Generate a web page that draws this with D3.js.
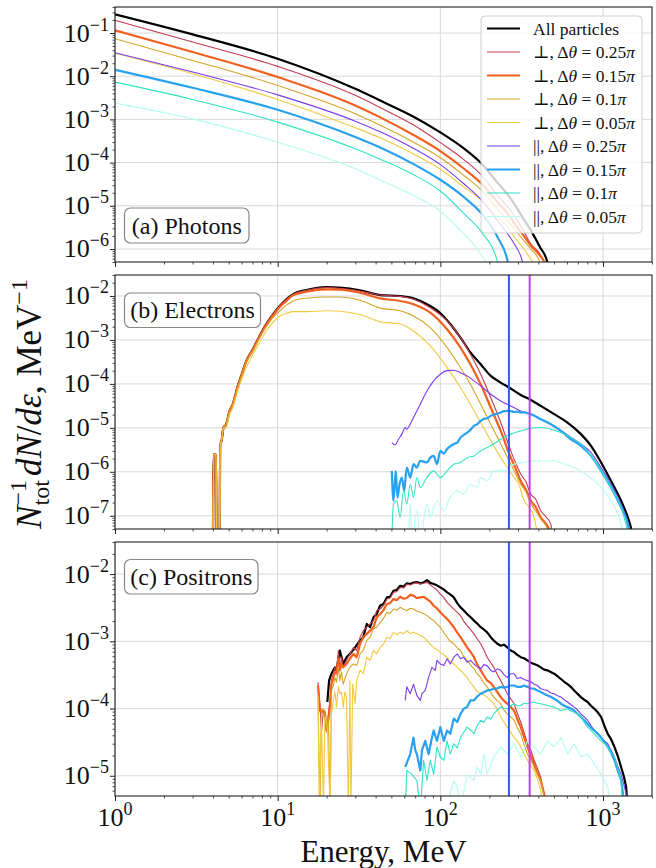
<!DOCTYPE html>
<html>
<head>
<meta charset="utf-8">
<script src="https://cdn.jsdelivr.net/npm/d3@7"></script>
<style>
  body { margin: 0; background: #fff; }
  svg { display: block; }
  text { font-family: 'Liberation Serif', 'DejaVu Serif', serif; fill: #111; }
</style>
</head>
<body>
<svg id="fig" width="656" height="868"></svg>
<script>
// ---- series styling / legend ----
const legendSym = ['', '⊥', '⊥', '⊥', '⊥', '||', '||', '||', '||'];
const legendDtheta = ['', '0.25', '0.15', '0.1', '0.05', '0.25', '0.15', '0.1', '0.05'];
const colors = ['#000000', '#c43b4f', '#f2601f', '#d6a326', '#f3c940', '#7b3bf0', '#28a2ee', '#2fe3c4', '#b2fdf0'];
const widths = [2.2, 1.1, 2.2, 1.1, 1.1, 1.1, 2.2, 1.1, 1.1];

// vertical marker energies (MeV), panels b and c
const markerE = [264, 354];
const markerColors = ['#3456ff', '#c23ef2'];

// ---- (a) photons: [E MeV, dN/dE] ----
const phAll = [[1,.271],[3,.093],[10,.0254],[30,.0051],[43,.0027],[68,.00117],[100,5.0e-4],[140,2.1e-4],[180,9.3e-5],[225,3.4e-5],[260,1.8e-5],[285,1.1e-5],[320,5.4e-6],[360,2.7e-6],[410,1.1e-6],[455,4.9e-7],[520,1e-8]];
const phPerp25 = [[1,.197],[3,.0618],[10,.0169],[30,.0036],[43,.00185],[68,7.5e-4],[100,2.9e-4],[140,1.16e-4],[180,5.0e-5],[225,1.73e-5],[260,9.3e-6],[285,5.9e-6],[320,2.9e-6],[360,1.3e-6],[410,7.6e-7],[435,4.5e-7],[470,1e-8]];
const phPerp15 = [[1,.115],[3,.0363],[10,.00955],[30,.0021],[43,1.1e-3],[68,4.4e-4],[100,1.85e-4],[140,7.2e-5],[180,3.2e-5],[225,1.2e-5],[260,6.5e-6],[285,3.9e-6],[320,2.2e-6],[360,1.2e-6],[410,7e-7],[440,4.5e-7],[465,1e-8]];
const phPerp10 = [[1,.074],[3,.0232],[10,.00612],[30,.00135],[43,7.2e-4],[68,3.0e-4],[100,1.3e-4],[140,5.0e-5],[180,2.25e-5],[225,8.5e-6],[260,4.5e-6],[285,2.9e-6],[320,1.7e-6],[360,1.0e-6],[410,4.9e-7],[440,1e-8]];
const phPerp05 = [[1,.034],[3,.0114],[10,.0029],[30,6.4e-4],[43,3.7e-4],[68,1.6e-4],[100,7.0e-5],[140,2.7e-5],[180,1.32e-5],[225,5.4e-6],[260,3.2e-6],[285,1.9e-6],[320,1.1e-6],[360,5.8e-7],[370,4.9e-7],[400,1e-8]];
const phPar25 = [[1,.035],[3,.0125],[10,.0037],[30,9.1e-4],[43,5.1e-4],[68,2.16e-4],[100,9.0e-5],[140,3.2e-5],[180,1.32e-5],[225,4.5e-6],[260,2.2e-6],[285,1.3e-6],[320,4.9e-7],[345,1e-8]];
const phPar15 = [[1,.0141],[3,.0054],[10,.00167],[30,3.9e-4],[43,2.2e-4],[68,9.35e-5],[100,4.0e-5],[140,1.58e-5],[180,6.5e-6],[225,1.86e-6],[260,4.9e-7],[280,1e-8]];
const phPar10 = [[1,.0073],[3,.0029],[10,8.65e-4],[30,2.08e-4],[43,1.18e-4],[68,5.3e-5],[100,2.2e-5],[140,6.5e-6],[180,2.4e-6],[225,4.9e-7],[245,1e-8]];
const phPar05 = [[1,.00238],[3,.00103],[10,2.97e-4],[30,7.2e-5],[43,3.9e-5],[68,1.75e-5],[100,7.5e-6],[140,2.2e-6],[180,7e-7],[190,4.9e-7],[205,1e-8]];

// ---- (b) electrons ----
const elRise = [[4.0,3e-8],[4.05,2.5e-6],[4.18,2.5e-6],[4.2,3e-8],[4.4,3e-8],[4.43,4.6e-6],[4.49,4.6e-6],[4.64,1.0e-5]];
const elAll = [[4.82,1.2e-5],[5.06,2.4e-5],[5.3,3.45e-5],[5.69,9.0e-5],[5.97,1.52e-4],[6.41,3.3e-4],[7.04,6.1e-4],[7.74,1.23e-3],[8.51,2.3e-3],[9.36,3.8e-3],[10.3,5.9e-3],[11.3,8.4e-3],[12.4,1.09e-2],[15,1.37e-2],[20,1.6e-2],[24,1.55e-2],[32,1.35e-2],[42.6,1.05e-2],[56.6,1.0e-2],[68.4,8.9e-3],[82.7,6.5e-3],[99,4.2e-3],[115,2.3e-3],[133,1.13e-3],[153,5.2e-4],[177,2.8e-4],[204,1.52e-4],[235,1.07e-4],[264,8.3e-5],[312,5.6e-5],[360,4.3e-5],[414,3.16e-5],[501,2.05e-5],[605,1.32e-5],[731,7.2e-6],[843,3.9e-6],[973,1.63e-6],[1120,6.2e-7],[1291,2.2e-7],[1420,9.2e-8],[1490,5e-8],[1525,3e-8]];
const elPerp25 = [[4.82,1.2e-5],[5.06,2.4e-5],[5.3,3.45e-5],[5.69,9.0e-5],[5.97,1.52e-4],[6.41,3.3e-4],[7.04,6.1e-4],[7.74,1.23e-3],[8.51,2.3e-3],[9.36,3.8e-3],[10.3,5.9e-3],[11.3,8.3e-3],[12.4,1.07e-2],[15,1.35e-2],[20,1.55e-2],[24,1.5e-2],[32,1.3e-2],[42.6,1.05e-2],[56.6,9.8e-3],[68.4,8.4e-3],[86.7,5.4e-3],[110,2.7e-3],[133,1.13e-3],[153,4.7e-4],[177,1.66e-4],[204,4.9e-5],[235,1.32e-5],[271,3.0e-6],[290,1.6e-6],[312,8.9e-7],[335,6e-7],[360,3.1e-7],[385,2.4e-7],[414,1.3e-7],[440,1.0e-7],[477,6.5e-8],[490,3e-8]];
const elPerp15 = [[4.82,1.2e-5],[5.06,2.4e-5],[5.3,3.45e-5],[5.69,9e-5],[5.97,1.5e-4],[6.41,3.3e-4],[7.04,6.0e-4],[7.74,1.2e-3],[8.51,2.2e-3],[9.36,3.6e-3],[10.3,5.6e-3],[11.3,7.7e-3],[12.4,1.03e-2],[15,1.25e-2],[20,1.42e-2],[24,1.4e-2],[32,1.19e-2],[42.6,8.8e-3],[56.6,7.7e-3],[68.4,6.5e-3],[86.7,4.2e-3],[110,1.75e-3],[133,6.7e-4],[153,2.8e-4],[177,9.8e-5],[204,2.9e-5],[235,8.5e-6],[271,2.1e-6],[290,1.2e-6],[312,6.2e-7],[335,4e-7],[360,2.2e-7],[385,1.6e-7],[414,9.2e-8],[440,7e-8],[465,5e-8],[480,3e-8]];
const elPerp10 = [[4.82,1.2e-5],[5.06,2.4e-5],[5.3,3.45e-5],[5.69,8.5e-5],[5.97,1.45e-4],[6.41,3.1e-4],[7.04,5.6e-4],[7.74,1.1e-3],[8.51,2.0e-3],[9.36,3.2e-3],[10.3,4.6e-3],[11.3,6.2e-3],[12.4,7.6e-3],[15,8.9e-3],[20,9.5e-3],[24,9.5e-3],[32,8.0e-3],[42.6,5.3e-3],[56.6,4.6e-3],[68.4,3.5e-3],[86.7,1.9e-3],[110,6.7e-4],[133,2.35e-4],[153,9.8e-5],[177,3.45e-5],[204,1.21e-5],[235,4.3e-6],[271,1.49e-6],[290,9e-7],[312,5.2e-7],[335,3.5e-7],[360,1.84e-7],[385,1.3e-7],[414,8.4e-8],[455,5e-8],[470,3e-8]];
const elPerp05 = [[4.82,1.0e-5],[5.06,2.0e-5],[5.3,2.9e-5],[5.69,7e-5],[5.97,1.2e-4],[6.41,2.35e-4],[7.04,4.7e-4],[7.74,8.7e-4],[8.51,1.6e-3],[9.36,2.5e-3],[10.3,3.5e-3],[11.3,4.0e-3],[12.4,4.4e-3],[15,4.4e-3],[20,4.6e-3],[24,4.5e-3],[32,3.8e-3],[42.6,2.6e-3],[56.6,2.3e-3],[68.4,1.6e-3],[86.7,7.3e-4],[110,2.35e-4],[133,8.3e-5],[153,3.45e-5],[177,1.32e-5],[204,5.1e-6],[235,2.1e-6],[258,1.25e-6],[284,7.4e-7],[305,5e-7],[327,2.2e-7],[350,1.6e-7],[377,9.2e-8],[400,3e-8]];
const elPar25 = [[50.3,4.6e-6],[52.7,4.1e-6],[55.3,5.5e-6],[58,7.2e-6],[60.8,1.02e-5],[62.2,9.3e-6],[65.3,1.21e-5],[68.4,1.72e-5],[75.3,3.45e-5],[82.7,6.9e-5],[91,1.17e-4],[100,1.66e-4],[110,2.0e-4],[121,2.05e-4],[133,1.8e-4],[146,1.52e-4],[161,1.17e-4],[177,9.0e-5],[204,5.8e-5],[235,4.1e-5],[271,3.16e-5],[312,2.43e-5],[360,2.05e-5],[414,1.6e-5],[477,1.23e-5],[551,8.7e-6],[634,6.1e-6],[731,4.3e-6],[843,2.75e-6],[973,1.25e-6],[1120,5.2e-7],[1291,1.84e-7],[1420,6.5e-8],[1476,3e-8]];
const elPar15 = [[50.3,1.05e-6],[51.5,2.2e-7],[53.2,1.05e-6],[54.5,2.6e-7],[56.1,5.2e-7],[58,7.4e-7],[59.9,3.7e-7],[62.2,1.25e-6],[65.3,7.4e-7],[68.4,1.49e-6],[71.7,1.25e-6],[75.3,1.78e-6],[82.7,1.63e-6],[86.7,2.1e-6],[91,2.3e-6],[95.3,1.49e-6],[100,3.0e-6],[105,2.6e-6],[110,3.3e-6],[115,3.8e-6],[121,4.3e-6],[127,4.6e-6],[133,6.0e-6],[139,6.8e-6],[146,7.8e-6],[153,9e-6],[161,1.11e-5],[168,1.2e-5],[177,1.44e-5],[185,1.6e-5],[194,1.65e-5],[204,1.87e-5],[213,2.0e-5],[224,2.1e-5],[235,2.23e-5],[246,2.4e-5],[264,2.43e-5],[284,2.3e-5],[297,2.35e-5],[312,2.23e-5],[327,2.25e-5],[343,2.15e-5],[360,2.05e-5],[414,1.57e-5],[477,1.21e-5],[551,8.5e-6],[634,5.5e-6],[731,3.9e-6],[843,2.3e-6],[973,1.05e-6],[1120,4.4e-7],[1291,1.55e-7],[1420,6.5e-8],[1476,3e-8]];
const elPar10 = [[50.3,3e-8],[51.5,1.84e-7],[53.9,2.2e-7],[56.6,9.2e-8],[59.4,3.7e-7],[62.2,1.84e-7],[65.3,5.2e-7],[68.4,2.6e-7],[71.7,7.4e-7],[75.3,4.4e-7],[82.7,7.4e-7],[91,1.05e-6],[100,7.4e-7],[110,1.05e-6],[121,1.49e-6],[133,1.63e-6],[146,2.1e-6],[161,2.3e-6],[177,3.0e-6],[204,3.9e-6],[235,5.5e-6],[271,7.2e-6],[312,8.5e-6],[360,9.8e-6],[414,1.02e-5],[477,9.3e-6],[551,7.8e-6],[634,6.0e-6],[731,4.3e-6],[843,2.3e-6],[973,1.05e-6],[1120,4.4e-7],[1291,1.55e-7],[1455,3e-8]];
const elPar05 = [[63.8,3e-8],[65.3,1.84e-7],[66.9,3e-8],[71.7,1.3e-7],[75.3,3e-8],[82.7,1.84e-7],[86.7,9.2e-8],[95.3,2.2e-7],[105,1.3e-7],[115,2.6e-7],[127,3.7e-7],[139,3.1e-7],[153,5.2e-7],[168,4.4e-7],[177,7.4e-7],[194,6.2e-7],[213,1.05e-6],[246,1.05e-6],[284,1.49e-6],[327,1.63e-6],[377,1.78e-6],[434,1.78e-6],[501,1.78e-6],[577,1.49e-6],[665,1.25e-6],[731,1.05e-6],[804,8.1e-7],[885,6.2e-7],[973,4.4e-7],[1120,2.2e-7],[1233,1.09e-7],[1355,3e-8]];

// ---- (c) positrons ----
const poAll = [[20.2,1.25e-4],[20.7,2.6e-4],[21.4,3.3e-4],[22.5,4.1e-4],[23,3.7e-4],[24.1,7.3e-4],[25.3,4.6e-4],[26.5,5.8e-4],[27.8,6.5e-4],[29.9,8.1e-4],[32.1,1.03e-3],[33.6,1.15e-3],[35.3,1.81e-3],[37,1.62e-3],[38.8,2.27e-3],[40.6,2.55e-3],[42.6,3.38e-3],[44.7,3.6e-3],[46.9,4.5e-3],[49.1,4.6e-3],[51.5,5.65e-3],[54,5.8e-3],[56.6,6.7e-3],[59.4,6.5e-3],[62.2,7.27e-3],[65.3,7.1e-3],[68.4,7.5e-3],[71.7,7.6e-3],[75.3,7.27e-3],[78.9,7.5e-3],[82.7,8.15e-3],[86.7,7.4e-3],[91,7.1e-3],[95.3,6.8e-3],[100,6.34e-3],[105,5.9e-3],[110,5.34e-3],[115,5.0e-3],[121,4.5e-3],[127,3.7e-3],[133,3.2e-3],[139,2.9e-3],[146,2.55e-3],[153,2.3e-3],[161,2.03e-3],[168,1.85e-3],[177,1.62e-3],[185,1.5e-3],[194,1.36e-3],[204,1.15e-3],[213,1.03e-3],[224,9.2e-4],[235,8.6e-4],[246,8.9e-4],[258,8.1e-4],[271,7.3e-4],[284,6.9e-4],[297,6.3e-4],[312,5.8e-4],[327,5.6e-4],[343,5.2e-4],[360,4.8e-4],[377,4.6e-4],[395,4.4e-4],[414,4.1e-4],[434,3.8e-4],[455,3.7e-4],[477,3.5e-4],[501,3.3e-4],[526,3.0e-4],[551,2.75e-4],[577,2.5e-4],[605,2.3e-4],[634,2.1e-4],[665,1.86e-4],[698,1.65e-4],[731,1.48e-4],[767,1.35e-4],[804,1.25e-4],[843,1.1e-4],[885,9.9e-5],[928,8.8e-5],[973,7.5e-5],[1020,5.5e-5],[1069,4.2e-5],[1120,3.5e-5],[1175,2.7e-5],[1230,2.0e-5],[1291,1.35e-5],[1340,1.0e-5],[1387,6.8e-6],[1420,3e-6]];
const poPerp25 = [[17.7,2.46e-4],[18.2,1.05e-4],[18.6,4.7e-5],[19.1,9.3e-5],[19.5,8.8e-5],[20,4.5e-5],[20.5,8.3e-5],[21,1.32e-4],[21.4,2.6e-4],[22,3.3e-4],[22.5,4.1e-4],[23,3.7e-4],[23.6,7.3e-4],[24.1,3.9e-4],[24.7,5.8e-4],[25.3,4.1e-4],[26.5,5.2e-4],[27.8,6.5e-4],[29.2,8.1e-4],[30.6,7.3e-4],[32.1,1.15e-3],[33.6,1.44e-3],[35.3,1.62e-3],[37,1.81e-3],[38.8,2.03e-3],[40.6,2.85e-3],[42.6,3.02e-3],[44.7,3.4e-3],[46.9,4.25e-3],[49.1,4.4e-3],[51.5,5.34e-3],[54,5.5e-3],[56.6,6.34e-3],[59.4,6.2e-3],[62.2,7.1e-3],[65.3,6.9e-3],[68.4,7.27e-3],[71.7,7.4e-3],[75.3,7.1e-3],[78.9,7.3e-3],[82.7,7.52e-3],[86.7,6.9e-3],[91,6.34e-3],[95.3,5.8e-3],[100,5.05e-3],[105,4.5e-3],[110,3.79e-3],[115,3.4e-3],[121,3.02e-3],[127,2.7e-3],[133,2.41e-3],[139,2.0e-3],[146,1.71e-3],[153,1.5e-3],[161,1.29e-3],[168,1.1e-3],[177,9.2e-4],[185,7.5e-4],[194,5.8e-4],[204,4.8e-4],[213,4.1e-4],[224,3.2e-4],[235,2.6e-4],[246,2.1e-4],[258,1.66e-4],[271,1.4e-4],[284,1.18e-4],[297,8.5e-5],[312,6.3e-5],[327,4.4e-5],[343,3.0e-5],[360,2.4e-5],[377,1.7e-5],[395,1.3e-5],[414,9.5e-6],[434,5.4e-6],[445,3e-6]];
const poPerp15 = [[17.7,2.2e-4],[18.2,9.3e-5],[18.6,9.3e-5],[19.1,8.8e-5],[19.5,8.8e-5],[20,4.7e-5],[20.5,6.7e-5],[21,1.18e-4],[21.4,2.3e-4],[22,2.9e-4],[22.5,3.5e-4],[23,3.3e-4],[23.6,5.5e-4],[24.1,3.7e-4],[24.7,4.6e-4],[25.3,4.1e-4],[26.5,4.6e-4],[27.8,5.5e-4],[29.2,6.5e-4],[30.6,5.8e-4],[32.1,9.2e-4],[33.6,1.15e-3],[35.3,1.29e-3],[37,1.44e-3],[38.8,1.62e-3],[40.6,2.27e-3],[42.6,2.55e-3],[44.7,2.9e-3],[46.9,3.58e-3],[49.1,3.7e-3],[51.5,4.25e-3],[54,4.1e-3],[56.6,4.61e-3],[59.4,4.3e-3],[62.2,4.4e-3],[65.3,4.9e-3],[68.4,4.77e-3],[71.7,4.4e-3],[75.3,4.5e-3],[78.9,4.6e-3],[82.7,4.25e-3],[86.7,3.9e-3],[91,3.38e-3],[95.3,3.1e-3],[100,2.7e-3],[105,2.4e-3],[110,2.15e-3],[115,1.9e-3],[121,1.62e-3],[127,1.35e-3],[133,1.15e-3],[139,9.8e-4],[146,8.1e-4],[153,7.0e-4],[161,5.8e-4],[168,4.6e-4],[177,3.7e-4],[185,3.1e-4],[194,2.6e-4],[204,2.4e-4],[213,2.1e-4],[224,1.75e-4],[235,1.48e-4],[246,1.3e-4],[258,1.18e-4],[271,1.05e-4],[284,9.3e-5],[297,7.0e-5],[312,5.3e-5],[327,3.8e-5],[343,2.7e-5],[360,2.0e-5],[377,1.5e-5],[395,1.1e-5],[414,8.5e-6],[434,5.4e-6],[445,3e-6]];
const poPerp10 = [[17.7,1.5e-4],[18.2,3e-6],[18.6,9.9e-5],[19.5,9.3e-5],[20,5.3e-5],[20.5,7.5e-5],[21,3e-6],[21.4,1.86e-4],[22,2.2e-4],[22.5,2.9e-4],[23,2.46e-4],[23.6,4.1e-4],[24.1,2.6e-4],[24.7,3.5e-4],[25.3,2.3e-4],[26.5,3.3e-4],[27.8,4.1e-4],[29.2,4.6e-4],[30.6,4.35e-4],[32.1,6.5e-4],[33.6,7.3e-4],[35.3,1.03e-3],[37,1.15e-3],[38.8,1.53e-3],[40.6,1.62e-3],[42.6,1.9e-3],[44.7,2.2e-3],[46.9,2.7e-3],[49.1,2.6e-3],[51.5,3.02e-3],[54,2.9e-3],[56.6,3.2e-3],[59.4,3.0e-3],[62.2,2.85e-3],[65.3,3.1e-3],[68.4,3.02e-3],[71.7,2.8e-3],[75.3,2.7e-3],[78.9,2.6e-3],[82.7,2.41e-3],[86.7,2.2e-3],[91,2.03e-3],[95.3,1.8e-3],[100,1.62e-3],[105,1.35e-3],[110,1.15e-3],[115,1.0e-3],[121,9.2e-4],[127,8.0e-4],[133,7.3e-4],[139,6.0e-4],[146,5.2e-4],[153,4.5e-4],[161,3.9e-4],[168,3.3e-4],[177,2.9e-4],[185,2.4e-4],[194,2.1e-4],[204,1.75e-4],[213,1.48e-4],[224,1.3e-4],[235,1.18e-4],[246,9.5e-5],[258,8.3e-5],[271,7.5e-5],[284,6.7e-5],[297,5.2e-5],[312,4.2e-5],[327,2.9e-5],[343,2.1e-5],[360,1.7e-5],[377,1.35e-5],[395,1.05e-5],[414,8.5e-6],[434,4.8e-6],[445,3e-6]];
const poPerp05 = [[17.7,1.48e-4],[18,3e-6],[18.6,8.3e-5],[19.1,3e-6],[19.5,7.5e-5],[20.2,5.3e-5],[21,3e-6],[21.4,8.3e-5],[22,1.32e-4],[22.5,1.76e-4],[23,1.05e-4],[23.6,2.1e-4],[24.1,1.66e-4],[24.7,1.76e-4],[25.3,1.05e-4],[25.9,1.76e-4],[26.5,1.48e-4],[27.2,3e-6],[27.8,2.6e-4],[28.2,3e-6],[28.9,2.3e-4],[29.9,1.18e-4],[30.6,2.6e-4],[32.1,3.7e-4],[33.6,3.3e-4],[35.3,5.8e-4],[37,5.2e-4],[38.8,7.3e-4],[40.6,6.5e-4],[42.6,8.1e-4],[44.7,9.0e-4],[46.9,1.15e-3],[49.1,1.1e-3],[51.5,1.36e-3],[54,1.25e-3],[56.6,1.36e-3],[59.4,1.3e-3],[62.2,1.44e-3],[65.3,1.3e-3],[68.4,1.36e-3],[71.7,1.3e-3],[75.3,1.22e-3],[78.9,1.15e-3],[82.7,1.03e-3],[86.7,9.0e-4],[91,8.1e-4],[95.3,7.5e-4],[100,6.9e-4],[105,6.3e-4],[110,5.8e-4],[115,5.0e-4],[121,4.6e-4],[127,4.1e-4],[133,3.7e-4],[139,3.3e-4],[146,2.9e-4],[153,2.4e-4],[161,2.1e-4],[168,1.8e-4],[177,1.66e-4],[185,1.6e-4],[194,1.48e-4],[204,1.3e-4],[213,1.18e-4],[224,9.5e-5],[235,7.5e-5],[246,6.3e-5],[258,5.3e-5],[271,4.4e-5],[284,3.7e-5],[297,3.3e-5],[312,2.7e-5],[327,2.1e-5],[343,1.7e-5],[360,1.4e-5],[377,1.2e-5],[395,9e-6],[414,6.1e-6],[424,3e-6]];
const poPar25 = [[60.8,1.32e-4],[62.2,2.1e-4],[65.3,1.66e-4],[68.4,2.3e-4],[71.7,1.57e-4],[75.3,1.32e-4],[77.1,1.66e-4],[80.8,1.86e-4],[84.7,2.9e-4],[88.8,4.1e-4],[93.1,3.7e-4],[95.3,5.2e-4],[100,4.6e-4],[105,4.35e-4],[110,5.5e-4],[115,4.6e-4],[121,5.8e-4],[127,6.5e-4],[133,5.5e-4],[139,5.8e-4],[146,4.9e-4],[153,5.2e-4],[161,4.6e-4],[168,4.2e-4],[177,3.9e-4],[185,4.5e-4],[194,4.35e-4],[204,3.7e-4],[213,3.5e-4],[224,3.9e-4],[235,3.7e-4],[246,3.2e-4],[258,2.9e-4],[271,3.3e-4],[284,3.3e-4],[297,2.8e-4],[312,2.9e-4],[327,2.7e-4],[343,2.6e-4],[360,2.5e-4],[377,2.3e-4],[395,2.2e-4],[414,1.97e-4],[434,1.9e-4],[455,1.86e-4],[477,1.7e-4],[501,1.66e-4],[526,1.55e-4],[551,1.48e-4],[577,1.35e-4],[605,1.25e-4],[634,1.15e-4],[665,1.05e-4],[698,9.5e-5],[731,8.3e-5],[767,7.5e-5],[804,6.7e-5],[843,5.6e-5],[885,4.7e-5],[928,4.2e-5],[973,3.7e-5],[1020,3.3e-5],[1069,3.0e-5],[1120,2.4e-5],[1175,1.9e-5],[1230,1.4e-5],[1291,1.05e-5],[1340,7.5e-6],[1387,5.4e-6],[1420,3e-6]];
const poPar15 = [[60.8,1.35e-5],[65.3,2.1e-5],[68.4,3.7e-5],[70.1,2.4e-5],[71.7,2.1e-5],[75.3,1.2e-5],[77.1,2.4e-5],[80.8,3.3e-5],[84.7,2.1e-5],[88.8,3.7e-5],[91,4.7e-5],[95.3,3.3e-5],[100,5.3e-5],[105,3.3e-5],[110,4.7e-5],[115,4.2e-5],[121,7.1e-5],[127,6.3e-5],[133,8.3e-5],[139,9.9e-5],[146,1.05e-4],[153,1.32e-4],[161,1.32e-4],[168,1.5e-4],[177,1.66e-4],[185,1.75e-4],[194,1.86e-4],[204,1.9e-4],[213,1.97e-4],[224,2.0e-4],[235,2.1e-4],[246,2.05e-4],[258,2.1e-4],[271,2.2e-4],[284,2.2e-4],[297,2.1e-4],[312,2.1e-4],[327,2.2e-4],[343,2.1e-4],[360,2.0e-4],[377,1.97e-4],[395,1.85e-4],[414,1.76e-4],[434,1.65e-4],[455,1.57e-4],[477,1.5e-4],[501,1.4e-4],[526,1.3e-4],[551,1.18e-4],[577,1.1e-4],[605,1.05e-4],[634,1.0e-4],[665,9.3e-5],[698,8.3e-5],[731,7.5e-5],[767,6.7e-5],[804,5.9e-5],[843,5.2e-5],[885,4.7e-5],[928,4.2e-5],[973,3.7e-5],[1020,3.2e-5],[1069,2.7e-5],[1120,2.2e-5],[1175,1.7e-5],[1230,1.2e-5],[1291,8.5e-6],[1325,5.5e-6],[1355,3e-6]];
const poPar10 = [[60.8,3e-6],[62.2,1.2e-5],[66.9,1.05e-5],[71.7,8.5e-6],[75.3,3e-6],[78.9,1.7e-5],[82.7,8.5e-6],[86.7,1.7e-5],[91,1.05e-5],[95.3,2.7e-5],[100,1.9e-5],[105,1.7e-5],[110,3.3e-5],[115,2.1e-5],[121,3.0e-5],[127,2.6e-5],[133,3.7e-5],[139,4.4e-5],[146,5.3e-5],[153,4.8e-5],[161,4.2e-5],[168,5.5e-5],[177,6.7e-5],[185,6.2e-5],[194,7.5e-5],[204,7.0e-5],[213,8.3e-5],[224,9.5e-5],[235,1.05e-4],[246,1.0e-4],[258,9.9e-5],[271,1.1e-4],[284,1.18e-4],[297,1.1e-4],[312,1.11e-4],[327,1.2e-4],[343,1.18e-4],[360,1.22e-4],[377,1.25e-4],[395,1.2e-4],[414,1.18e-4],[434,1.15e-4],[455,1.11e-4],[477,1.08e-4],[501,1.05e-4],[526,9.8e-5],[551,9.3e-5],[577,9.6e-5],[605,9.9e-5],[634,9.2e-5],[665,8.8e-5],[698,8.2e-5],[731,7.5e-5],[767,6.2e-5],[804,5.3e-5],[843,4.7e-5],[885,4.2e-5],[928,3.7e-5],[973,3.3e-5],[1020,3.0e-5],[1069,2.7e-5],[1120,2.2e-5],[1175,1.9e-5],[1230,1.3e-5],[1291,8.5e-6],[1322,3e-6]];
const poPar05 = [[110,3e-6],[115,5.4e-6],[121,8.5e-6],[127,6.8e-6],[133,3e-6],[146,1.05e-5],[161,8.5e-6],[168,1.35e-5],[177,1.05e-5],[185,2.1e-5],[194,1.05e-5],[213,1.9e-5],[235,2.7e-5],[258,2.1e-5],[284,3.0e-5],[312,1.9e-5],[343,3.3e-5],[377,2.7e-5],[414,2.1e-5],[455,3.3e-5],[501,2.7e-5],[551,3.7e-5],[605,2.1e-5],[665,3.0e-5],[731,1.9e-5],[804,2.1e-5],[885,1.5e-5],[973,1.05e-5],[1069,6.8e-6],[1120,3e-6]];

// ---- layout ----
const svg = d3.select('#fig');
const x = d3.scaleLog().domain([1, 2000]).range([115, 652]);

const panels = [
  { key: 'a', label: '(a) Photons', domain: [5e-7, 0.4], top: 7, bottom: 262,
    series: [phAll, phPerp25, phPerp15, phPerp10, phPerp05, phPar25, phPar15, phPar10, phPar05],
    curve: d3.curveMonotoneX, box: [124.5, 208, 124.5, 35], markers: false },
  { key: 'b', label: '(b) Electrons', domain: [5e-8, 3e-2], top: 275, bottom: 529,
    series: [elRise.concat(elAll), elRise.concat(elPerp25), elRise.concat(elPerp15), elRise.concat(elPerp10),
             elRise.concat(elPerp05), elPar25, elPar15, elPar10, elPar05],
    curve: d3.curveMonotoneX, box: [124.5, 293, 136, 34.5], markers: true },
  { key: 'c', label: '(c) Positrons', domain: [5e-6, 3e-2], top: 542, bottom: 796,
    series: [poAll, poPerp25, poPerp15, poPerp10, poPerp05, poPar25, poPar15, poPar10, poPar05],
    curve: d3.curveLinear, box: [124.5, 559.5, 133.5, 34.5], markers: true }
];

const x0 = x.range()[0], x1 = x.range()[1];

function decadeTicks(domain) {
  const lo = Math.floor(Math.log10(domain[0])), hi = Math.ceil(Math.log10(domain[1]));
  const major = [], minor = [];
  for (let k = lo; k <= hi; k++) {
    const base = Math.pow(10, k);
    if (base >= domain[0] && base <= domain[1]) major.push(base);
    for (let j = 2; j <= 9; j++) {
      const v = j * base;
      if (v >= domain[0] && v <= domain[1]) minor.push(v);
    }
  }
  return { major, minor };
}

const xt = decadeTicks(x.domain());

panels.forEach((p, pi) => {
  const y = d3.scaleLog().domain(p.domain).range([p.bottom, p.top]);
  const g = svg.append('g');
  const yt = decadeTicks(p.domain);

  g.append('clipPath').attr('id', 'clip-' + p.key)
    .append('rect').attr('x', x0).attr('y', p.top).attr('width', x1 - x0).attr('height', p.bottom - p.top);

  // grid
  g.append('g').selectAll('line').data(xt.major).join('line')
    .attr('x1', d => x(d)).attr('x2', d => x(d)).attr('y1', p.top).attr('y2', p.bottom)
    .attr('stroke', '#d8d8d8').attr('stroke-width', 1);
  g.append('g').selectAll('line').data(yt.major).join('line')
    .attr('x1', x0).attr('x2', x1).attr('y1', d => y(d)).attr('y2', d => y(d))
    .attr('stroke', '#d8d8d8').attr('stroke-width', 1);

  // curves
  const line = d3.line().x(d => x(d[0])).y(d => y(d[1])).curve(p.curve);
  const plot = g.append('g').attr('clip-path', `url(#clip-${p.key})`);
  p.series.forEach((s, i) => {
    plot.append('path').attr('d', line(s)).attr('fill', 'none')
      .attr('stroke', colors[i]).attr('stroke-width', widths[i])
      .attr('stroke-linejoin', 'round').attr('stroke-linecap', 'butt');
  });

  if (p.markers) {
    markerE.forEach((e, i) => {
      plot.append('line').attr('x1', x(e)).attr('x2', x(e)).attr('y1', p.top).attr('y2', p.bottom)
        .attr('stroke', markerColors[i]).attr('stroke-width', 2);
    });
  }

  // y ticks
  g.append('g').attr('transform', `translate(${x0},0)`)
    .call(d3.axisLeft(y).tickValues(yt.minor).tickSize(2.5).tickFormat(''))
    .call(a => a.select('.domain').remove())
    .call(a => a.selectAll('line').attr('stroke', '#222').attr('stroke-width', 0.8));
  g.append('g').attr('transform', `translate(${x0},0)`)
    .call(d3.axisLeft(y).tickValues(yt.major).tickSize(5).tickFormat(''))
    .call(a => a.select('.domain').remove())
    .call(a => a.selectAll('line').attr('stroke', '#222').attr('stroke-width', 1));

  yt.major.forEach(v => {
    const t = g.append('text').attr('x', 109).attr('y', y(v) + 8.5).attr('text-anchor', 'end').attr('font-size', 26);
    t.append('tspan').text('10');
    t.append('tspan').attr('font-size', 18).attr('dy', -11).text('−' + Math.round(-Math.log10(v)));
  });

  // x ticks
  g.append('g').attr('transform', `translate(0,${p.bottom})`)
    .call(d3.axisBottom(x).tickValues(xt.minor).tickSize(2.5).tickFormat(''))
    .call(a => a.select('.domain').remove())
    .call(a => a.selectAll('line').attr('stroke', '#222').attr('stroke-width', 0.8));
  g.append('g').attr('transform', `translate(0,${p.bottom})`)
    .call(d3.axisBottom(x).tickValues(xt.major).tickSize(5).tickFormat(''))
    .call(a => a.select('.domain').remove())
    .call(a => a.selectAll('line').attr('stroke', '#222').attr('stroke-width', 1));

  if (pi === panels.length - 1) {
    xt.major.forEach(v => {
      const t = g.append('text').attr('x', x(v)).attr('y', p.bottom + 30).attr('text-anchor', 'middle').attr('font-size', 26);
      t.append('tspan').text('10');
      t.append('tspan').attr('font-size', 18).attr('dy', -11).text(String(Math.round(Math.log10(v))));
    });
  }

  // frame
  g.append('rect').attr('x', x0).attr('y', p.top).attr('width', x1 - x0).attr('height', p.bottom - p.top)
    .attr('fill', 'none').attr('stroke', '#222').attr('stroke-width', 1.1);

  // panel label box
  const [bx, by, bw, bh] = p.box;
  g.append('rect').attr('x', bx).attr('y', by).attr('width', bw).attr('height', bh).attr('rx', 6)
    .attr('fill', '#fff').attr('stroke', '#888').attr('stroke-width', 1.2);
  g.append('text').attr('x', bx + bw / 2).attr('y', by + bh / 2 + 8).attr('text-anchor', 'middle')
    .attr('font-size', 24).text(p.label);

  // legend in panel a
  if (pi === 0) {
    const lg = g.append('g');
    lg.append('rect').attr('x', 481).attr('y', 16).attr('width', 161).attr('height', 217).attr('rx', 4)
      .attr('fill', '#fff').attr('fill-opacity', 0.8).attr('stroke', '#d0d0d0').attr('stroke-width', 1);
    colors.forEach((c, i) => {
      const ry = 28.5 + i * 23.5;
      lg.append('line').attr('x1', 487).attr('x2', 520).attr('y1', ry).attr('y2', ry)
        .attr('stroke', c).attr('stroke-width', widths[i]);
      const t = lg.append('text').attr('x', 533).attr('y', ry + 6).attr('font-size', 17.5);
      if (i === 0) { t.text('All particles'); return; }
      t.append('tspan').text(legendSym[i] + ', Δ');
      t.append('tspan').attr('font-style', 'italic').text('θ');
      t.append('tspan').text(' = ' + legendDtheta[i]);
      t.append('tspan').attr('font-style', 'italic').text('π');
    });
  }
});

// x label
svg.append('text').attr('x', (x0 + x1) / 2).attr('y', 862).attr('text-anchor', 'middle')
  .attr('font-size', 31).text('Energy, MeV');

// y label
const yl = svg.append('text').attr('transform', 'translate(41,404) rotate(-90)')
  .attr('text-anchor', 'middle').attr('font-size', 35);
yl.append('tspan').attr('font-style', 'italic').text('N');
const sub = yl.append('tspan').attr('font-size', 24).attr('dy', 8).text('tot');
const subLen = sub.node().getComputedTextLength();
const sup = yl.append('tspan').attr('font-size', 24).attr('dx', -subLen).attr('dy', -23).text('−1');
const supLen = sup.node().getComputedTextLength();
yl.append('tspan').attr('font-style', 'italic').attr('dx', Math.max(0, subLen - supLen) + 4).attr('dy', 15).text('dN');
yl.append('tspan').text('/');
yl.append('tspan').attr('font-style', 'italic').text('dε');
yl.append('tspan').text(', MeV');
yl.append('tspan').attr('font-size', 24).attr('dy', -14).text('−1');
</script>
</body>
</html>
